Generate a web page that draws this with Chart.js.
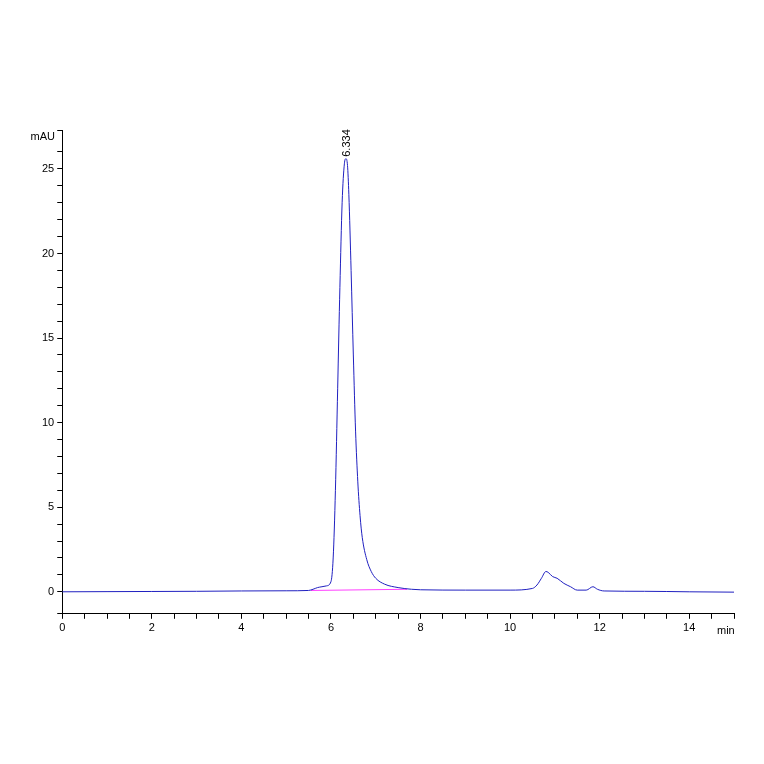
<!DOCTYPE html><html><head><script src="https://cdn.jsdelivr.net/npm/chart.js"></script>
<style>body{margin:0;background:#fff}#w{width:764px;height:764px}</style></head><body><div id="w"><canvas id="c"></canvas></div>
<script>
const times=[0,1,2,3,4,5,5.5,5.6,5.7,5.8,5.9,6.0,6.05,6.1,6.15,6.2,6.25,6.3,6.334,6.37,6.4,6.45,6.5,6.55,6.6,6.65,6.7,6.8,6.9,7.0,7.2,7.5,7.8,8,9,10,10.5,10.6,10.7,10.8,10.85,10.95,11.05,11.2,11.35,11.5,11.7,11.85,11.95,12.1,13,14,15];
const signal=[0.0,0.01,0.02,0.03,0.05,0.06,0.08,0.15,0.25,0.3,0.35,0.6,2,6,12,18,23,25.3,25.6,25.2,23.5,19,14,9.5,6.5,4.5,3.2,1.9,1.2,0.8,0.45,0.25,0.15,0.12,0.1,0.1,0.2,0.4,0.8,1.2,1.15,0.9,0.8,0.5,0.3,0.1,0.1,0.3,0.15,0.05,0.03,0.0,-0.02];
const baseX=[5.55,7.7], baseY=[0.08,0.15];
const peakLabel="6.334";
const pts=times.map((t,i)=>({x:t,y:signal[i]}));
const base=baseX.map((t,i)=>({x:t,y:baseY[i]}));
const deco={id:'deco',afterDraw(ch){const c=ch.ctx,xs=ch.scales.x,ys=ch.scales.y;c.save();c.fillStyle='#000';c.font='11px Arial, Liberation Sans';
c.textAlign='right';c.fillText('mAU',55,140);c.textAlign='left';c.fillText('min',717,634);
c.translate(xs.getPixelForValue(6.334)+4,ys.getPixelForValue(25.6)-2);c.rotate(-Math.PI/2);c.textAlign='left';c.fillText(peakLabel,0,0);c.restore();}};
new Chart(document.getElementById('c'),{type:'scatter',data:{datasets:[
{data:pts,showLine:true,borderColor:'#2020c0',borderWidth:1,pointRadius:0,cubicInterpolationMode:'monotone'},
{data:base,showLine:true,borderColor:'#ff40ff',borderWidth:1,pointRadius:0}]},
options:{responsive:true,maintainAspectRatio:false,animation:false,plugins:{legend:{display:false},tooltip:{enabled:false}},
layout:{padding:{top:130,left:39,right:30,bottom:126}},
scales:{x:{type:'linear',min:0,max:15,border:{color:'#000'},grid:{drawOnChartArea:false,tickLength:5,color:'#000'},
ticks:{stepSize:0.5,autoSkip:false,maxRotation:0,color:'#000',font:{size:11},callback:v=>(v%2===0&&v<15)?String(v):''}},
y:{min:-1.3,max:27.3,border:{color:'#000'},grid:{drawOnChartArea:false,tickLength:5,color:'#000'},
ticks:{stepSize:1,autoSkip:false,color:'#000',font:{size:11},callback:v=>(v%5===0)?String(v):''}}}},plugins:[deco]});
</script></body></html>
